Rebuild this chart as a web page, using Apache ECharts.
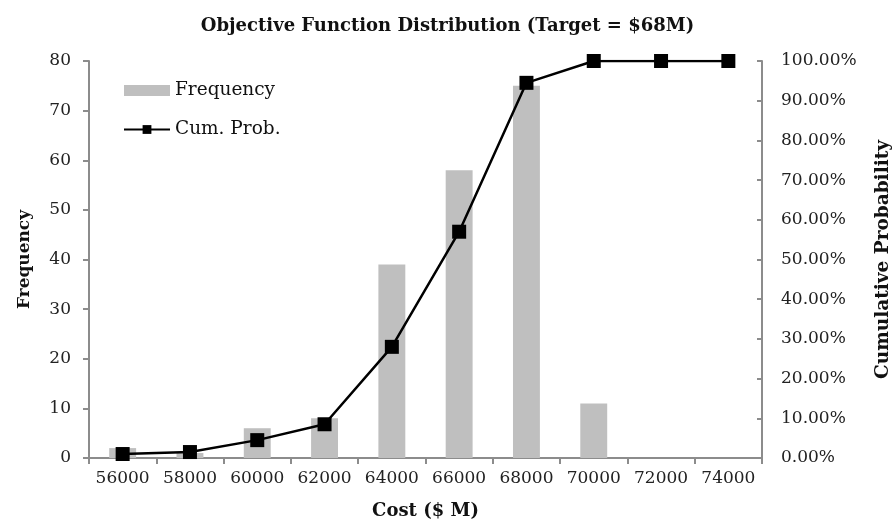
<!DOCTYPE html>
<html>
<head>
<meta charset="utf-8">
<script src="https://cdn.jsdelivr.net/npm/echarts@6/dist/echarts.min.js"></script>
<style>html,body{margin:0;padding:0;background:#fff}#c{width:895px;height:525px}</style>
</head>
<body>
<div id="c"></div>
<script>
const categories = ['56000','58000','60000','62000','64000','66000','68000','70000','72000','74000'];
const frequency = [2, 1, 6, 8, 39, 58, 75, 11, 0, 0];
const cumProb = [0.01, 0.015, 0.045, 0.085, 0.28, 0.57, 0.945, 1, 1, 1];
const leftTicks = [0, 10, 20, 30, 40, 50, 60, 70, 80];

const FONT = 'DejaVu Serif';
const chart = echarts.init(document.getElementById('c'), null, {renderer: 'canvas'});
chart.setOption({
  backgroundColor: '#fff',
  animation: false,
  textStyle: {fontFamily: FONT, color: '#222'},
  title: {
    text: 'Objective Function Distribution (Target = $68M)',
    left: 'center', top: 12,
    textStyle: {fontFamily: FONT, fontSize: 18, fontWeight: 'bold', color: '#111'}
  },
  legend: {
    orient: 'vertical', left: 118, top: 76, itemGap: 20,
    itemWidth: 46, itemHeight: 11,
    textStyle: {fontFamily: FONT, fontSize: 18.5, color: '#111'},
    data: [
      {name: 'Frequency', icon: 'rect'},
      {name: 'Cum. Prob.'}
    ]
  },
  grid: {left: 89, right: 133, top: 61, bottom: 67, containLabel: false, outerBoundsMode: 'none'},
  xAxis: {
    type: 'category', data: categories,
    name: 'Cost ($ M)', nameLocation: 'middle', nameGap: 44,
    nameTextStyle: {fontFamily: FONT, fontSize: 18, fontWeight: 'bold', color: '#111'},
    axisLine: {lineStyle: {color: '#8c8c8c', width: 2}},
    axisTick: {show: true, alignWithLabel: false, length: 6, lineStyle: {color: '#8c8c8c', width: 2}},
    axisLabel: {fontFamily: FONT, fontSize: 17, color: '#222', margin: 12, interval: 0}
  },
  yAxis: [
    {
      type: 'value', min: 0, max: 80, interval: 10,
      name: 'Frequency', nameLocation: 'middle', nameGap: 56, nameRotate: 90,
      nameTextStyle: {fontFamily: FONT, fontSize: 17, fontWeight: 'bold', color: '#111'},
      axisLine: {show: true, lineStyle: {color: '#8c8c8c', width: 2}},
      axisTick: {show: true, length: 6, lineStyle: {color: '#8c8c8c', width: 2}},
      axisLabel: {fontFamily: FONT, fontSize: 17, color: '#222', margin: 18,
        formatter: v => leftTicks.includes(v) ? String(v) : ''},
      splitLine: {show: false}
    },
    {
      type: 'value', min: 0, max: 1, interval: 0.1,
      name: 'Cumulative Probability', nameLocation: 'middle', nameGap: 112, nameRotate: 90,
      nameTextStyle: {fontFamily: FONT, fontSize: 18.5, fontWeight: 'bold', color: '#111'},
      axisLine: {show: true, lineStyle: {color: '#8c8c8c', width: 2}},
      axisTick: {show: true, inside: true, length: 5, lineStyle: {color: '#8c8c8c', width: 2}},
      axisLabel: {fontFamily: FONT, fontSize: 17, color: '#222', margin: 19,
        formatter: v => (v * 100).toFixed(2) + '%'},
      splitLine: {show: false}
    }
  ],
  series: [
    {
      name: 'Frequency', type: 'bar', data: frequency, yAxisIndex: 0,
      barWidth: '40%',
      itemStyle: {color: '#bfbfbf'}
    },
    {
      name: 'Cum. Prob.', type: 'line', data: cumProb, yAxisIndex: 1,
      symbol: 'rect', symbolSize: 14, showAllSymbol: true,
      lineStyle: {color: '#000', width: 2.5},
      itemStyle: {color: '#000'}
    }
  ]
});
</script>
</body>
</html>
